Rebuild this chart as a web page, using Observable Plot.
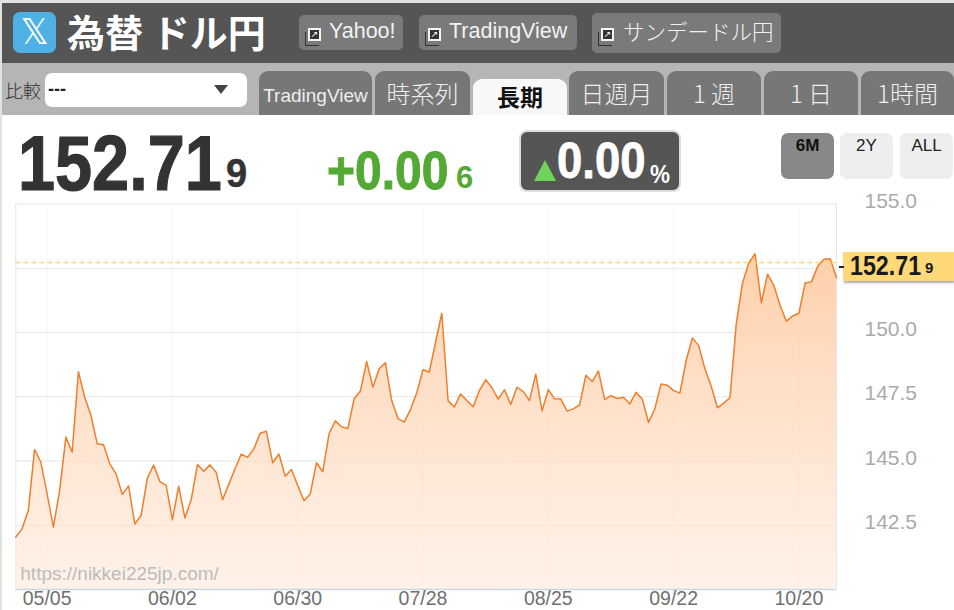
<!DOCTYPE html>
<html><head><meta charset="utf-8">
<script src="https://cdn.jsdelivr.net/npm/d3@7"></script>
<script src="https://cdn.jsdelivr.net/npm/@observablehq/plot@0.6"></script>
<style>
html,body{margin:0;padding:0;background:#fff;width:954px;height:610px;overflow:hidden;font-family:"Liberation Sans",Arial,sans-serif}
.a{position:absolute;white-space:nowrap;box-sizing:border-box}
.c{transform-origin:0 50%}
.btn{background:#7a7a7a;border-radius:5px;color:#f2f2f2;font-size:21.5px;top:15px;height:35px;line-height:32px}
.ic{position:absolute;left:9px;top:13px;width:13px;height:13px;border:2px solid #f4f4f4;background:#333;box-sizing:border-box;color:#fff;font:9px/9px "DejaVu Sans";text-align:center;font-style:normal}
.ic2{position:absolute;left:6px;top:17px;width:13px;height:13px;border-left:1px solid #333;border-bottom:1px solid #333}
.tab{background:#777;color:#eee;top:71px;height:44px;border-radius:9px 9px 0 0;text-align:center;font-size:24px;line-height:44px;font-family:"Noto Sans CJK JP","Liberation Sans",sans-serif;font-weight:300}
.rng{top:133px;width:53px;height:46px;border-radius:7px;background:#eee;color:#222;text-align:center;font-size:17px;line-height:25px}
</style></head><body>
<div class="a" style="left:0;top:0;width:954px;height:3px;background:#e2e2de"></div>
<div class="a" style="left:2px;top:3px;width:952px;height:60px;background:#555"></div>
<div class="a" style="left:2px;top:63px;width:952px;height:52px;background:#b5b5b5"></div>
<div class="a" style="left:0;top:115px;width:2px;height:495px;background:#e2e2de"></div>
<div class="a" style="left:0;top:3px;width:2px;height:112px;background:#e2e2de"></div>

<div class="a" style="left:13px;top:12px;width:43px;height:41px;border-radius:7px;background:#4fb0e6;color:#fff;font-size:35px;line-height:41px;text-align:center;font-family:'DejaVu Sans'">𝕏</div>
<div class="a" style="left:67px;top:5px;color:#fff;font-size:38px;font-weight:700;line-height:52px;font-family:'Noto Sans CJK JP'">為替 ドル円</div>

<div class="a btn" style="left:299px;width:104px;padding-left:30px"><i class="ic2"></i><i class="ic">↗</i>Yahoo!</div>
<div class="a btn" style="left:419px;width:158px;padding-left:30px"><i class="ic2"></i><i class="ic">↗</i>TradingView</div>
<div class="a btn" style="left:592px;width:189px;top:13px;height:40px;line-height:36px;padding-left:31px;font-family:'Noto Sans CJK JP';font-weight:300"><i class="ic2" style="top:19px"></i><i class="ic" style="top:15px">↗</i>サンデードル円</div>

<div class="a" style="left:5px;top:78px;font-size:18px;color:#333;font-family:'Noto Sans CJK JP';font-weight:300;line-height:24px">比較</div>
<div class="a" style="left:45px;top:73px;width:202px;height:34px;background:#fff;border-radius:7px;font-size:18px;font-weight:700;line-height:33px;padding-left:3px;color:#222">---
  <div class="a" style="left:169px;top:12px;width:0;height:0;border-left:7px solid transparent;border-right:7px solid transparent;border-top:9px solid #444"></div></div>

<div class="a tab" style="left:259px;width:113px;font-size:19px;font-family:'Liberation Sans';line-height:49px">TradingView</div>
<div class="a tab" style="left:375px;width:95px">時系列</div>
<div class="a tab" style="left:473px;width:94px;top:79px;height:36px;background:#f8f8f8;color:#111;font-weight:700;font-size:23px;line-height:34px">長期</div>
<div class="a tab" style="left:569px;width:95px">日週月</div>
<div class="a tab" style="left:667px;width:94px">1 週</div>
<div class="a tab" style="left:764px;width:94px">1 日</div>
<div class="a tab" style="left:861px;width:93px">1時間</div>

<div class="a c" style="left:18px;top:121px;color:#333;font-weight:700;font-size:77px;line-height:84px;transform:scaleX(.865);-webkit-text-stroke:1.2px #333">152.71</div>
<div class="a c" style="left:226px;top:150px;color:#333;font-weight:700;font-size:40px;line-height:46px;transform:scaleX(.95);-webkit-text-stroke:.5px #333">9</div>
<div class="a c" style="left:327px;top:141px;color:#53a934;font-weight:700;font-size:53px;line-height:60px;transform:scaleX(.905);-webkit-text-stroke:1px #53a934">+0.00</div>
<div class="a" style="left:456px;top:160px;color:#53a934;font-weight:700;font-size:31px;line-height:36px">6</div>

<div class="a" style="left:519px;top:130px;width:162px;height:62px;background:#555;border:2px solid #ddd;border-radius:8px;color:#fff;font-weight:700">
  <div class="a" style="left:13px;top:28px;width:0;height:0;border-left:11px solid transparent;border-right:11px solid transparent;border-bottom:21px solid #6fd45b"></div>
  <div class="a c" style="left:36px;top:-1px;font-size:50px;line-height:60px;transform:scaleX(.91);-webkit-text-stroke:.8px #fff">0.00</div>
  <div class="a c" style="left:129px;top:27px;font-size:25px;line-height:30px;transform:scaleX(.9)">%</div>
</div>

<div class="a rng" style="left:781px;background:#888;color:#111;font-weight:700">6M</div>
<div class="a rng" style="left:840px">2Y</div>
<div class="a rng" style="left:900px">ALL</div>

<div id="chart" class="a" style="left:0;top:190px;width:954px;height:420px"></div>

<div class="a" style="left:843px;top:252px;width:111px;height:29px;background:#ffd877;box-shadow:1px 2px 2px #aaa;color:#1a1a1a;font-weight:700">
  <div class="a c" style="left:7px;top:-2px;font-size:28px;line-height:32px;transform:scaleX(.83)">152.71</div>
  <div class="a" style="left:82px;top:7px;font-size:15px;line-height:18px">9</div>
</div>
<div class="a" style="left:839px;top:266px;width:5px;height:1.5px;background:#222"></div>

<script>
const prices = [
142.04,142.36,143.07,145.45,144.95,143.72,142.43,143.85,145.93,145.34,
148.47,147.48,146.77,145.67,145.63,144.89,144.50,143.70,144.03,142.55,
142.88,144.33,144.84,144.20,144.05,142.71,144.02,142.78,143.50,144.86,
144.60,144.85,144.55,143.49,144.09,144.70,145.27,145.14,145.47,146.08,
146.16,144.93,145.27,144.41,144.67,144.05,143.45,143.72,144.93,144.58,
146.06,146.56,146.33,146.26,147.42,147.72,148.87,147.87,148.59,148.82,
147.35,146.65,146.51,147.00,147.65,148.55,148.46,149.62,150.75,147.35,
147.10,147.61,147.35,147.11,147.74,148.16,147.85,147.41,147.77,147.20,
147.87,147.70,147.35,148.38,146.95,147.78,147.42,147.41,146.94,147.03,
147.18,148.34,148.09,148.50,147.39,147.54,147.43,147.48,147.22,147.67,
147.41,146.50,147.03,148.00,147.95,147.74,147.64,148.91,149.79,149.49,
148.59,147.91,147.07,147.25,147.46,150.34,151.93,152.70,153.06,151.15,
152.27,151.83,151.05,150.44,150.64,150.75,151.93,151.97,152.58,152.85,
152.87,152.13];
const dateLabels = ["05/05","06/02","06/30","07/28","08/25","09/22","10/20"];
const datePositions = [5,25,45,65,85,105,125];
const gridValues = [142.5,145,147.5,150,152.5,155];
const yLabels = [142.5,145,147.5,150,155];
const lastPrice = 152.719;
const baseline = 140;
const watermark = "https://nikkei225jp.com/";

const rows = prices.map((p,i)=>({i,p}));
const gradient = () => {
  const svg = d3.create("svg:defs");
  const g = svg.append("linearGradient").attr("id","areaFill").attr("x1",0).attr("x2",0).attr("y1",0).attr("y2",1);
  g.append("stop").attr("offset","0%").attr("stop-color","#ffc79b").attr("stop-opacity",0.85);
  g.append("stop").attr("offset","100%").attr("stop-color","#ffe9da").attr("stop-opacity",0.6);
  return svg.node();
};
const plot = Plot.plot({
  width:954, height:420,
  marginTop:13.5, marginBottom:21, marginLeft:15.3, marginRight:118,
  x:{type:"linear",domain:[0,131],axis:null},
  y:{type:"linear",domain:[140,155],axis:null},
  style:{background:"transparent",fontFamily:"'Liberation Sans',Arial,sans-serif"},
  marks:[
    gradient,
    Plot.ruleY(gridValues,{stroke:"#e6e6e6",strokeWidth:1.2}),
    Plot.ruleX(datePositions,{stroke:"#f5f5f5",strokeWidth:1}),
    Plot.ruleX([0],{stroke:"#e6e6e6",strokeWidth:1}),
    Plot.ruleX([131],{stroke:"#e6e6e6",strokeWidth:1}),
    Plot.areaY(rows,{x:"i",y1:()=>baseline,y2:"p",fill:"url(#areaFill)"}),
    Plot.line(rows,{x:"i",y:"p",stroke:"#ee7f2d",strokeWidth:1.5,curve:"linear"}),
    Plot.ruleY([lastPrice],{stroke:"#ffd877",strokeWidth:1.5,strokeDasharray:"5,3"}),
    Plot.ruleY([baseline],{stroke:"#ccd6eb",strokeWidth:1.5}),
    Plot.axisX({ticks:datePositions,tickFormat:(d)=>dateLabels[datePositions.indexOf(d)],tickSize:5,tickPadding:-3,fontSize:19.5,stroke:"#ccd6eb",fill:"#707070",textStroke:"none",anchor:"bottom",label:null}),
    Plot.axisY({ticks:yLabels,tickFormat:".1f",anchor:"right",tickSize:0,tickPadding:28,fontSize:21,fill:"#aaa",dy:-3,label:null}),
    Plot.text([watermark],{frameAnchor:"bottom-left",dx:4.5,dy:-10,text:d=>d,fontSize:19,fill:"#bbb"})
  ]
});
document.getElementById("chart").appendChild(plot);
</script>
</body></html>
